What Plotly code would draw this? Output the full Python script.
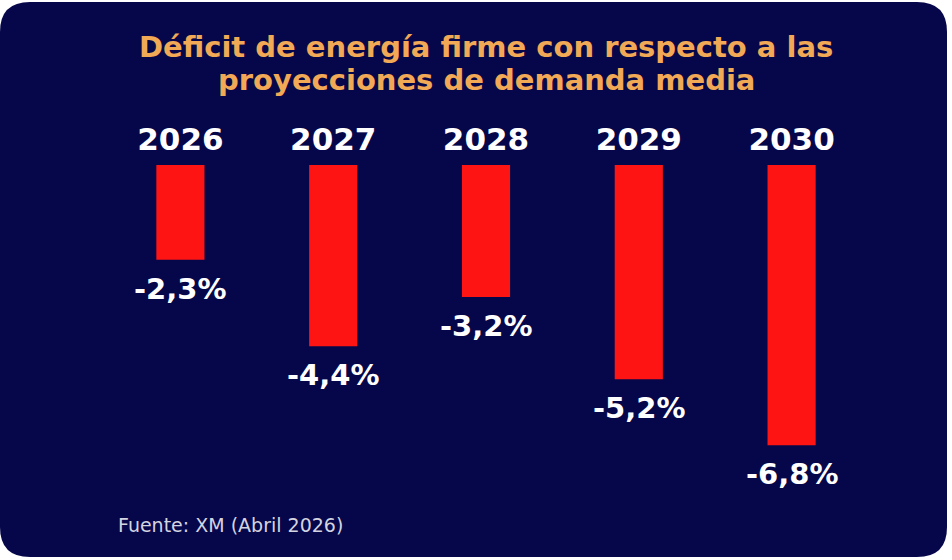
import plotly.graph_objects as go

# data
years = ["2026", "2027", "2028", "2029", "2030"]
deficit = [-2.3, -4.4, -3.2, -5.2, -6.8]
value_labels = ["-2,3%", "-4,4%", "-3,2%", "-5,2%", "-6,8%"]

title_lines = ["Déficit de energía firme con respecto a las",
               "proyecciones de demanda media"]
source_text = "Fuente: XM (Abril 2026)"

NAVY = "#06074a"
RED = "#ff1414"
ORANGE = "#f2a955"

W, H = 952, 560
ML, MR, MT, MB = 104, 84, 165, 57
PW, PH = W - ML - MR, H - MT - MB


def px(x):
    return (x - ML) / PW


def py(y):
    return (H - MB - y) / PH


def rounded_rect(x0, y0, x1, y1, r):
    # rounded panel drawn in paper coordinates
    return (f"M {px(x0 + r)},{py(y0)} L {px(x1 - r)},{py(y0)} "
            f"Q {px(x1)},{py(y0)} {px(x1)},{py(y0 + r)} "
            f"L {px(x1)},{py(y1 - r)} Q {px(x1)},{py(y1)} {px(x1 - r)},{py(y1)} "
            f"L {px(x0 + r)},{py(y1)} Q {px(x0)},{py(y1)} {px(x0)},{py(y1 - r)} "
            f"L {px(x0)},{py(y0 + r)} Q {px(x0)},{py(y0)} {px(x0 + r)},{py(y0)} Z")


fig = go.Figure()

fig.add_trace(go.Bar(
    x=years,
    y=deficit,
    marker=dict(color=RED, line=dict(width=0)),
    hoverinfo="skip",
))

# value labels under each bar (x as category index, "2026" would be read as index 2026)
for i, (val, lab) in enumerate(zip(deficit, value_labels)):
    fig.add_annotation(
        x=i, y=val, text=lab, showarrow=False,
        yanchor="top", yshift=-10,
        font=dict(family="DejaVu Sans", size=29, color="white", weight="bold"),
    )

# two title lines, placed separately to get the tight line spacing
for line, ypix in zip(title_lines, [47, 80]):
    fig.add_annotation(
        xref="paper", yref="paper", x=px(486), y=py(ypix),
        xanchor="center", yanchor="middle",
        text=line, showarrow=False,
        font=dict(family="DejaVu Sans", size=29, color=ORANGE, weight="bold"),
    )

fig.add_annotation(
    xref="paper", yref="paper", x=px(116), y=py(525),
    xanchor="left", yanchor="middle",
    text=source_text, showarrow=False,
    font=dict(family="DejaVu Sans", size=19, color="#d4d4e0"),
)

fig.update_layout(
    width=W, height=H,
    margin=dict(l=ML, r=MR, t=MT, b=MB),
    paper_bgcolor="white",
    plot_bgcolor="rgba(0,0,0,0)",
    bargap=0.685,
    showlegend=False,
    shapes=[dict(type="path", xref="paper", yref="paper", layer="below",
                 path=rounded_rect(0, 2, 947, 557, 30),
                 fillcolor=NAVY, line=dict(width=0))],
    xaxis=dict(
        type="category", side="top", range=[-0.5, 4.5],
        showgrid=False, zeroline=False, showline=False,
        ticks="outside", ticklen=2, tickcolor="rgba(0,0,0,0)",
        tickfont=dict(family="DejaVu Sans", size=31, color="white", weight="bold"),
    ),
    yaxis=dict(range=[-8.2, 0], visible=False, showgrid=False, zeroline=False),
)

fig.write_html("out.html", config={"displayModeBar": False},
               post_script="document.body.style.margin='0';")
